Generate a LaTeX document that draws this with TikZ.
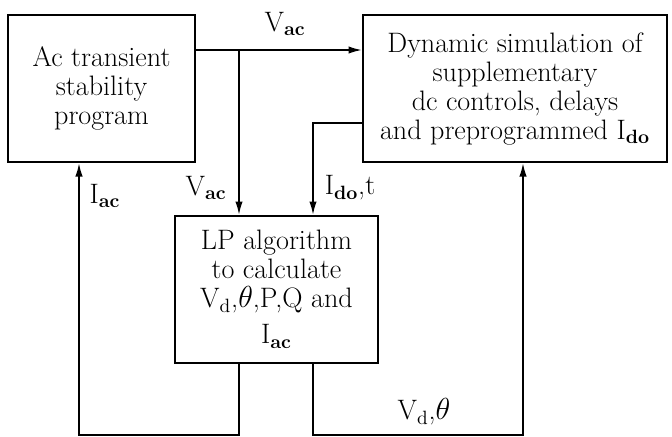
\documentclass[tikz,border=0pt]{standalone}
\usetikzlibrary{arrows.meta}
\begin{document}
\begin{tikzpicture}[x=0.2mm, y=-0.2mm,
  every node/.style={font=\fontsize{16}{16.5}\selectfont},
  block/.style={draw, line width=1.5pt, align=center, inner sep=1pt},
  flow/.style={line width=0.8pt, -{Latex[length=7.5pt,width=4.2pt]}}]
  \useasboundingbox (0,0) rectangle (672,436);

  % program blocks
  \node[block, minimum width=37.4mm, minimum height=29.4mm] (acprog) at (101.5,88.5)
    {Ac transient\\stability\\program};
  \node[block, minimum width=60.8mm, minimum height=29.4mm] (dcsim) at (515,88.5)
    {Dynamic simulation of\\supplementary\\dc controls, delays\\and preprogrammed I$_{\mathbf{do}}$};
  \node[block, minimum width=40.6mm, minimum height=29.4mm] (lpalg) at (276.5,289.5)
    {LP algorithm\\to calculate\\V$_{\mathrm{d}}$,$\theta$,P,Q and\\[4pt]I$_{\mathbf{ac}}$};

  % branch point and corners
  \coordinate (vsplit) at (239,50);
  \coordinate (dcbend) at (313,123);
  \coordinate (iacfoot) at (79,435);
  \coordinate (vdfoot) at (523,435);

  % signal paths
  \draw[flow] (acprog.east |- vsplit) -- (dcsim.west |- vsplit);
  \draw[flow] (vsplit) -- (vsplit |- lpalg.north);
  \draw[flow] (dcsim.west |- dcbend) -- (dcbend) -- (dcbend |- lpalg.north);
  \draw[flow] (vsplit |- lpalg.south) -- (vsplit |- iacfoot) -- (iacfoot) -- (iacfoot |- acprog.south);
  \draw[flow] (dcbend |- lpalg.south) -- (dcbend |- vdfoot) -- (vdfoot) -- (vdfoot |- dcsim.south);

  % signal labels
  \node (vactop) at (285,24) {V$_{\mathbf{ac}}$};
  \node (vacleft) at (206,188) {V$_{\mathbf{ac}}$};
  \node (idot) at (350,188) {I$_{\mathbf{do}}$,t};
  \node (iac) at (105,196) {I$_{\mathbf{ac}}$};
  \node (vdth) at (424,412) {V$_{\mathrm{d}}$,$\theta$};
\end{tikzpicture}
\end{document}
